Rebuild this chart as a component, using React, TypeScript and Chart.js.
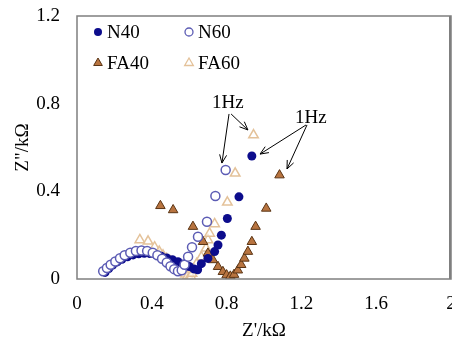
import React, { useEffect, useRef } from "react";
import { Chart, registerables } from "chart.js";

Chart.register(...registerables);

// Data (Z' in kΩ, Z'' in kΩ)
const n40X = [0.15, 0.17, 0.19, 0.215, 0.24, 0.27, 0.3, 0.33, 0.36, 0.39, 0.42, 0.45, 0.48, 0.51, 0.54, 0.57, 0.6, 0.625, 0.645, 0.665, 0.7, 0.736, 0.754, 0.772, 0.804, 0.866, 0.935];
const n40Y = [0.03, 0.048, 0.063, 0.078, 0.09, 0.101, 0.11, 0.115, 0.117, 0.116, 0.111, 0.104, 0.096, 0.088, 0.079, 0.069, 0.057, 0.046, 0.042, 0.07, 0.094, 0.125, 0.155, 0.2, 0.276, 0.375, 0.561];

const n60X = [0.14, 0.16, 0.18, 0.205, 0.23, 0.255, 0.285, 0.315, 0.345, 0.375, 0.405, 0.43, 0.455, 0.48, 0.5, 0.52, 0.54, 0.56, 0.575, 0.594, 0.615, 0.647, 0.695, 0.74, 0.795];
const n60Y = [0.035, 0.05, 0.065, 0.08, 0.095, 0.108, 0.12, 0.128, 0.13, 0.128, 0.12, 0.108, 0.092, 0.075, 0.058, 0.045, 0.035, 0.04, 0.065, 0.102, 0.145, 0.193, 0.261, 0.379, 0.497];

const fa40X = [0.446, 0.514, 0.62, 0.674, 0.7, 0.727, 0.754, 0.78, 0.8, 0.82, 0.84, 0.86, 0.878, 0.895, 0.914, 0.935, 0.955, 1.012, 1.083];
const fa40Y = [0.334, 0.315, 0.239, 0.17, 0.117, 0.087, 0.056, 0.033, 0.018, 0.012, 0.02, 0.04, 0.065, 0.094, 0.125, 0.17, 0.239, 0.322, 0.474];

const fa60X = [0.336, 0.38, 0.415, 0.44, 0.46, 0.48, 0.5, 0.515, 0.53, 0.55, 0.565, 0.58, 0.59, 0.6, 0.61, 0.615, 0.625, 0.64, 0.665, 0.69, 0.7, 0.709, 0.736, 0.804, 0.846, 0.944];
const fa60Y = [0.178, 0.172, 0.145, 0.125, 0.108, 0.092, 0.08, 0.07, 0.058, 0.046, 0.034, 0.022, 0.012, 0.006, 0.01, 0.025, 0.045, 0.07, 0.1, 0.14, 0.178, 0.208, 0.251, 0.35, 0.482, 0.657];

const seriesNames = ["N40", "N60", "FA40", "FA60"];

// Annotations in data units
const labels1Hz = [
  { x: 0.807, y: 0.803 },
  { x: 1.251, y: 0.734 },
];
const arrows = [
  { x0: 0.813, y0: 0.753, x1: 0.775, y1: 0.529 },
  { x0: 0.824, y0: 0.753, x1: 0.914, y1: 0.68 },
  { x0: 1.225, y0: 0.703, x1: 0.979, y1: 0.57 },
  { x0: 1.23, y0: 0.703, x1: 1.123, y1: 0.502 },
];

const FONT = "'Liberation Serif', 'Times New Roman', serif";
const C_N40 = "#0c0c8c";
const C_N60 = "#5c5cb4";
const C_FA40_FILL = "#b87440";
const C_FA40_BORDER = "#5a3414";
const C_FA60 = "#e4c29a";

function toPts(xs: number[], ys: number[]) {
  return xs.map((x, i) => ({ x, y: ys[i] }));
}

function fmt(v: any) {
  return String(Math.round(Number(v) * 10) / 10);
}

const framePlugin = {
  id: "frame",
  afterDatasetsDraw(chart: any) {
    const { ctx, chartArea: a } = chart;
    ctx.save();
    ctx.strokeStyle = "#7f7f7f";
    ctx.lineWidth = 1.5;
    ctx.strokeRect(a.left, a.top, a.right - a.left, a.bottom - a.top);
    ctx.lineWidth = 2;
    ctx.beginPath();
    ctx.moveTo(a.right - 1, a.top);
    ctx.lineTo(a.right - 1, a.bottom);
    ctx.stroke();
    ctx.restore();
  },
};

function drawMarker(ctx: CanvasRenderingContext2D, kind: number, x: number, y: number, r: number) {
  ctx.save();
  ctx.beginPath();
  if (kind < 2) {
    ctx.arc(x, y, r, 0, Math.PI * 2);
  } else {
    ctx.moveTo(x, y - r);
    ctx.lineTo(x + r * 0.866, y + r * 0.5);
    ctx.lineTo(x - r * 0.866, y + r * 0.5);
    ctx.closePath();
  }
  if (kind === 0) {
    ctx.fillStyle = C_N40;
    ctx.fill();
  } else if (kind === 1) {
    ctx.strokeStyle = C_N60;
    ctx.lineWidth = 1.3;
    ctx.stroke();
  } else if (kind === 2) {
    ctx.fillStyle = C_FA40_FILL;
    ctx.fill();
    ctx.strokeStyle = C_FA40_BORDER;
    ctx.lineWidth = 1;
    ctx.stroke();
  } else {
    ctx.strokeStyle = C_FA60;
    ctx.lineWidth = 1.3;
    ctx.stroke();
  }
  ctx.restore();
}

const legendPlugin = {
  id: "customLegend",
  afterDraw(chart: any) {
    const { ctx, chartArea: a } = chart;
    ctx.save();
    ctx.font = `19px ${FONT}`;
    ctx.fillStyle = "#000";
    ctx.textBaseline = "middle";
    ctx.textAlign = "left";
    seriesNames.forEach((name, i) => {
      const col = i % 2;
      const row = Math.floor(i / 2);
      const mx = a.left + 21 + col * 91;
      const my = a.top + 16 + row * 31;
      drawMarker(ctx, i, mx, my, i < 2 ? 4 : 5);
      ctx.fillStyle = "#000";
      ctx.fillText(name, mx + 9, my + 1);
    });
    ctx.restore();
  },
};

const annotationPlugin = {
  id: "annot",
  afterDraw(chart: any) {
    const { ctx } = chart;
    const sx = chart.scales.x;
    const sy = chart.scales.y;
    ctx.save();
    ctx.font = `19px ${FONT}`;
    ctx.fillStyle = "#000";
    ctx.textAlign = "center";
    ctx.textBaseline = "middle";
    labels1Hz.forEach((l) => {
      ctx.fillText("1Hz", sx.getPixelForValue(l.x), sy.getPixelForValue(l.y));
    });
    ctx.strokeStyle = "#000";
    ctx.lineWidth = 1;
    arrows.forEach((ar) => {
      const x0 = sx.getPixelForValue(ar.x0);
      const y0 = sy.getPixelForValue(ar.y0);
      const x1 = sx.getPixelForValue(ar.x1);
      const y1 = sy.getPixelForValue(ar.y1);
      ctx.beginPath();
      ctx.moveTo(x0, y0);
      ctx.lineTo(x1, y1);
      const ang = Math.atan2(y1 - y0, x1 - x0);
      const hl = 9;
      const spread = 0.4;
      ctx.moveTo(x1 - hl * Math.cos(ang - spread), y1 - hl * Math.sin(ang - spread));
      ctx.lineTo(x1, y1);
      ctx.lineTo(x1 - hl * Math.cos(ang + spread), y1 - hl * Math.sin(ang + spread));
      ctx.stroke();
    });
    ctx.restore();
  },
};

export default function App() {
  const ref = useRef<HTMLCanvasElement | null>(null);
  useEffect(() => {
    if (!ref.current) return;
    const chart = new Chart(ref.current, {
      type: "scatter",
      data: {
        datasets: [
          {
            label: "N60",
            data: toPts(n60X, n60Y),
            pointStyle: "circle",
            pointRadius: 4.5,
            backgroundColor: "rgba(255,255,255,1)",
            borderColor: C_N60,
            borderWidth: 1.5,
          },
          {
            label: "N40",
            data: toPts(n40X, n40Y),
            pointStyle: "circle",
            pointRadius: 4.5,
            backgroundColor: C_N40,
            borderColor: C_N40,
            borderWidth: 0,
          },
          {
            label: "FA40",
            data: toPts(fa40X, fa40Y),
            pointStyle: "triangle",
            pointRadius: 5.5,
            backgroundColor: C_FA40_FILL,
            borderColor: C_FA40_BORDER,
            borderWidth: 1,
          },
          {
            label: "FA60",
            data: toPts(fa60X, fa60Y),
            pointStyle: "triangle",
            pointRadius: 5.5,
            backgroundColor: "rgba(255,255,255,0.6)",
            borderColor: C_FA60,
            borderWidth: 1.5,
          },
        ],
      },
      options: {
        animation: false,
        responsive: false,
        layout: { autoPadding: false, padding: { top: 16, right: 1, left: 0, bottom: 0 } },
        plugins: {
          legend: { display: false },
          tooltip: { enabled: false },
        },
        scales: {
          x: {
            type: "linear",
            min: 0,
            max: 2,
            grid: { display: false, drawTicks: false },
            border: { display: false },
            ticks: {
              stepSize: 0.4,
              padding: 14,
              color: "#000",
              font: { family: FONT, size: 19 },
              maxRotation: 0,
              callback: (v: any) => fmt(v),
            },
            title: {
              display: true,
              text: "Z'/kΩ",
              color: "#000",
              font: { family: FONT, size: 19 },
              padding: { top: 0, bottom: 3 },
            },
            afterFit: (s: any) => {
              s.height = 66;
              s.paddingLeft = 0;
              s.paddingRight = 0;
            },
          },
          y: {
            type: "linear",
            min: 0,
            max: 1.2,
            grid: { display: false, drawTicks: false },
            border: { display: false },
            ticks: {
              stepSize: 0.4,
              padding: 17,
              color: "#000",
              font: { family: FONT, size: 19 },
              callback: (v: any) => fmt(v),
            },
            title: {
              display: true,
              text: 'Z"/kΩ',
              color: "#000",
              font: { family: FONT, size: 19 },
              padding: { top: 12, bottom: 0 },
            },
            afterFit: (s: any) => {
              s.width = 77;
              s.paddingTop = 0;
              s.paddingBottom = 0;
            },
          },
        },
      },
      plugins: [framePlugin, legendPlugin, annotationPlugin],
    });
    return () => chart.destroy();
  }, []);
  return (
    <div style={{ position: "absolute", left: 0, top: 0, width: 452, height: 345, background: "#fff" }}>
      <canvas ref={ref} width={452} height={345} style={{ display: "block" }} />
    </div>
  );
}
